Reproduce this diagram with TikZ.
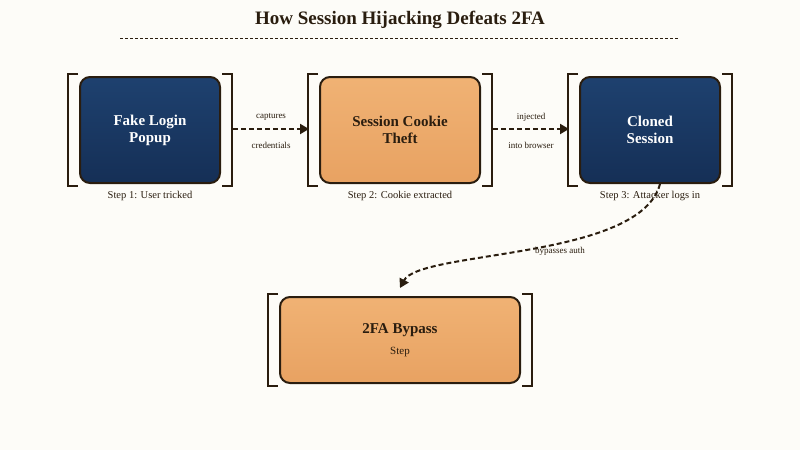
\documentclass[tikz,border=0pt]{standalone}
\usepackage{fontspec}
\setmainfont{Liberation Serif}
\usetikzlibrary{arrows.meta}
\definecolor{bg}{HTML}{FDFCF8}
\definecolor{ink}{HTML}{2A1D0F}
\definecolor{blueT}{HTML}{1E416F}
\definecolor{blueB}{HTML}{152F56}
\definecolor{orT}{HTML}{F0B274}
\definecolor{orB}{HTML}{E8A262}
\begin{document}
\begin{tikzpicture}[x=1pt,y=-1pt,
  box/.style={draw=ink,line width=2pt,rounded corners=10pt,minimum width=#1,align=center,font=\bfseries\fontsize{15}{17}\selectfont},
  blue/.style={top color=blueT,bottom color=blueB,text=white},
  orng/.style={top color=orT,bottom color=orB,text=ink},
  brk/.style={draw=ink,line width=1.6pt},
  steplbl/.style={text=ink,font=\fontsize{10.5}{12}\selectfont},
  small/.style={text=ink,font=\fontsize{9}{10}\selectfont},
  conn/.style={draw=ink,line width=2pt,dash pattern=on 5pt off 3pt,-{Triangle[length=9pt,width=10pt]}}]
\fill[bg] (0,0) rectangle (800,450);
\node[text=ink,font=\bfseries\fontsize{19}{22}\selectfont] (title) at (400,20) {How Session Hijacking Defeats 2FA};
\draw[ink,line width=1pt,dash pattern=on 3pt off 2pt] (120,38) -- (678,38);
\node[box=140pt,blue,minimum height=106pt] (a) at (150,130) {Fake Login\\Popup};
\node[box=160pt,orng,minimum height=106pt] (b) at (400,130) {Session Cookie\\Theft};
\node[box=140pt,blue,minimum height=106pt] (c) at (650,130) {Cloned\\Session};
\node[box=240pt,orng,minimum height=86pt] (d) at (400,340) {2FA Bypass\\[4pt]{\normalfont\fontsize{11}{13}\selectfont Step}};
\foreach \l/\r/\t/\bb in {68/232/74/186, 308/492/74/186, 568/732/74/186, 268/532/294/386}{
  \draw[brk] (\l+10,\t) -- (\l,\t) -- (\l,\bb) -- (\l+10,\bb);
  \draw[brk] (\r-10,\t) -- (\r,\t) -- (\r,\bb) -- (\r-10,\bb);}
\node[steplbl] (s1) at (150,196) {Step 1: User tricked};
\node[steplbl] (s2) at (400,196) {Step 2: Cookie extracted};
\node[steplbl] (s3) at (650,196) {Step 3: Attacker logs in};
\coordinate (a1) at (233,129); \coordinate (b0) at (309,129);
\coordinate (b1) at (493,129); \coordinate (c0) at (569,129);
\draw[conn] (a1) -- (b0);
\draw[conn] (b1) -- (c0);
\node[small] at (271,117) {captures};
\node[small] at (271,145) {credentials};
\node[small] at (531,117) {injected};
\node[small] at (531,145) {into browser};
\coordinate (c2) at (660,184); \coordinate (d0) at (400,288);
\draw[conn] (c2) .. controls (640,260) and (420,250) .. (d0);
\node[small] at (560,251) {bypasses auth};
\end{tikzpicture}
\end{document}
